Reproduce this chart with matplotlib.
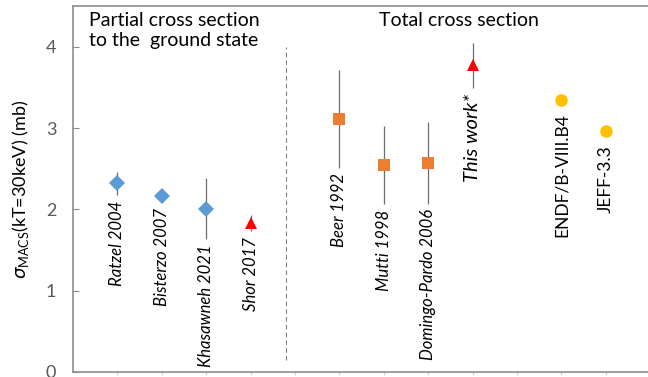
import numpy as np
import matplotlib.pyplot as plt

plt.rcParams['font.family'] = ['Lato', 'DejaVu Sans']
plt.rcParams['mathtext.fontset'] = 'custom'
plt.rcParams['mathtext.rm'] = 'Lato'

# partial cross section to the ground state
partial_names = ['Ratzel 2004', 'Bisterzo 2007', 'Khasawneh 2021', 'Shor 2017']
partial_vals = [2.32, 2.16, 2.01, 1.83]
partial_errs = [0.14, 0.07, 0.38, 0.10]

# total cross section
total_names = ['Beer 1992', 'Mutti 1998', 'Domingo-Pardo 2006', 'This work*']
total_vals = [3.11, 2.54, 2.57, 3.77]
total_errs = [0.60, 0.48, 0.50, 0.28]

# evaluated libraries
lib_names = ['ENDF/B-VIII.B4', 'JEFF-3.3']
lib_vals = [3.35, 2.96]

BLUE = '#5B9BD5'
ORANGE = '#ED7D31'
RED = '#FF0000'
YELLOW = '#FFC000'
ERRC = '#6E6E6E'
FRAME = '#8C8C8C'

fig = plt.figure(figsize=(6.48, 3.77), dpi=100)
ax = fig.add_axes([0.1127, 0.0133, 0.8873, 0.9707])

xp = np.arange(1, 5)
xt = np.arange(6, 10)
xl = np.array([11, 12])

ebar = dict(ecolor=ERRC, elinewidth=0.9, capsize=3, capthick=0.9, linestyle='none')

# partial: blue diamonds, last one (Shor) red triangle
ax.errorbar(xp[:3], partial_vals[:3], yerr=partial_errs[:3], fmt='D', color=BLUE,
            markersize=8, markeredgewidth=0, **ebar)
ax.errorbar(xp[3:], partial_vals[3:], yerr=partial_errs[3:], fmt='^', color=RED,
            markersize=9, markeredgewidth=0, **ebar)

# total: orange squares, this work red triangle
ax.errorbar(xt[:3], total_vals[:3], yerr=total_errs[:3], fmt='s', color=ORANGE,
            markersize=9, markeredgewidth=0, **ebar)
ax.errorbar(xt[3:], total_vals[3:], yerr=total_errs[3:], fmt='^', color=RED,
            markersize=9, markeredgewidth=0, **ebar)

ax.plot(xl, lib_vals, 'o', color=YELLOW, markersize=9, markeredgewidth=0, linestyle='none')

# rotated labels under each point
for x, v, e, n in zip(np.concatenate([xp, xt]), partial_vals + total_vals,
                      partial_errs + total_errs, partial_names + total_names):
    fs = 14.5 if n == 'This work*' else 12
    ax.annotate(n, (x, v - e), xytext=(0, -4), textcoords='offset points',
                rotation=90, ha='center', va='top', fontsize=fs, style='italic')
for x, v, n in zip(xl, lib_vals, lib_names):
    ax.annotate(n, (x, v), xytext=(0, -10), textcoords='offset points',
                rotation=90, ha='center', va='top', fontsize=12.5)

# separator between the two groups
ax.plot([4.8, 4.8], [0.15, 4.0], linestyle=(0, (4, 3)), color='#7F7F7F', linewidth=0.8)

ax.text(0.37, 4.43, 'Partial cross section\nto the  ground state', ha='left', va='top',
        fontsize=14, linespacing=1.25)
ax.text(8.7, 4.43, 'Total cross section', ha='center', va='top', fontsize=14)

ax.set_xlim(0, 12.95)
ax.set_ylim(0, 4.5)
ax.set_yticks([0, 1, 2, 3, 4])
ax.set_xticks(np.arange(1, 13))
ax.set_xticklabels([])
ax.tick_params(axis='y', direction='in', length=4, color=FRAME, labelcolor='#595959',
               labelsize=13, pad=12)
ax.tick_params(axis='x', direction='out', length=2, color='#D0D0D0')
for s in ax.spines.values():
    s.set_color(FRAME)
    s.set_linewidth(1.2)
ax.spines['right'].set_visible(False)

ax.set_ylabel(r'$\sigma_{\mathrm{MACS}}$(kT=30keV) (mb)', fontsize=13, labelpad=11)

fig.savefig('out.png', dpi=100)
